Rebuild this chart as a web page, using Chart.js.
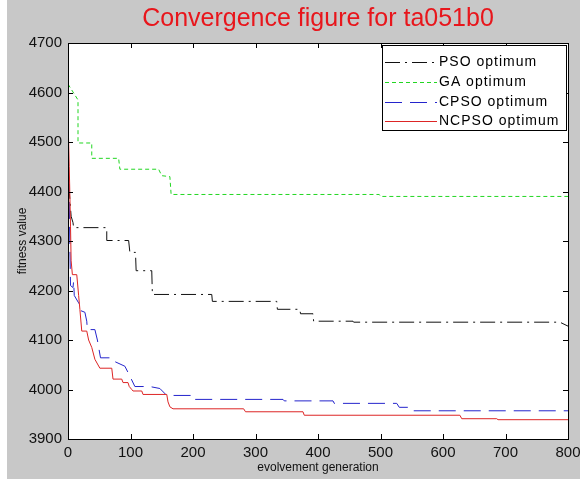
<!DOCTYPE html>
<html>
<head>
<meta charset="utf-8">
<script src="https://cdn.jsdelivr.net/npm/chart.js@4/dist/chart.umd.min.js"></script>
<style>
  html, body { margin: 0; padding: 0; background: #ffffff; }
  #wrap { width: 580px; height: 479px; }
</style>
</head>
<body>
<div id="wrap"><canvas id="c" width="580" height="479"></canvas></div>
<script>
// ---- data ----
const titleText = 'Convergence figure for ta051b0';
const xTitle = 'evolvement generation';
const yTitle = 'fitness value';
const seriesNames = ['PSO optimum', 'GA optimum', 'CPSO optimum', 'NCPSO optimum'];

const psoGen = [0, 2, 5, 8, 9, 62, 62, 97, 99, 108, 109, 134, 135, 230, 231, 334, 335, 371, 372, 392, 393, 456, 457, 787, 800];
const psoVal = [4470, 4400, 4350, 4337, 4327, 4327, 4301, 4301, 4277, 4277, 4240, 4240, 4192, 4192, 4178, 4178, 4162, 4162, 4153, 4153, 4138, 4138, 4136, 4136, 4128];

const gaGen = [0, 16, 16, 38, 38, 81, 83, 145, 150, 163, 165, 498, 500, 800];
const gaVal = [4617, 4585, 4498, 4498, 4467, 4467, 4445, 4445, 4432, 4430, 4394, 4394, 4390, 4390];

const cpsoGen = [0, 2, 3, 4, 8, 9, 10, 17, 19, 27, 30, 31, 43, 47, 52, 70, 72, 91, 99, 107, 131, 147, 158, 200, 201, 344, 346, 424, 426, 526, 530, 547, 550, 800];
const cpsoVal = [4480, 4380, 4290, 4210, 4206, 4219, 4190, 4175, 4160, 4156, 4138, 4121, 4121, 4100, 4064, 4064, 4058, 4047, 4027, 4006, 4006, 4002, 3988, 3988, 3980, 3980, 3977, 3977, 3972, 3972, 3964, 3964, 3957, 3957];

const ncpsoGen = [0, 2, 4, 5, 7, 14, 17, 19, 22, 30, 33, 38, 43, 51, 70, 72, 86, 88, 96, 98, 102, 104, 118, 120, 158, 160, 163, 168, 281, 284, 376, 378, 627, 630, 686, 688, 800];
const ncpsoVal = [4550, 4450, 4330, 4260, 4232, 4232, 4190, 4162, 4118, 4118, 4100, 4085, 4061, 4043, 4043, 4021, 4021, 4014, 4014, 4006, 4000, 3997, 3997, 3990, 3990, 3975, 3965, 3961, 3961, 3955, 3955, 3948, 3948, 3941, 3941, 3939, 3939];

const xMin = 0, xMax = 800, xStep = 100;
const yMin = 3900, yMax = 4700, yStep = 100;

// ---- styles ----
const colors = ['#111111', '#22d622', '#2424cc', '#dd2525'];
const dashes = [[15, 5, 2, 5], [4, 3], [17, 8], []];
const gens = [psoGen, gaGen, cpsoGen, ncpsoGen];
const vals = [psoVal, gaVal, cpsoVal, ncpsoVal];

const datasets = seriesNames.map((name, i) => ({
  label: name,
  data: gens[i].map((g, k) => ({ x: g, y: vals[i][k] })),
  borderColor: colors[i],
  backgroundColor: colors[i],
  borderDash: dashes[i],
  borderWidth: 1,
  pointRadius: 0,
  tension: 0,
  fill: false,
  order: 4 - i
}));

const FONT = "'Liberation Sans', Arial, sans-serif";

const framePlugin = {
  id: 'frame',
  beforeDraw(chart) {
    const ctx = chart.ctx, W = chart.width, H = chart.height, a = chart.chartArea;
    ctx.save();
    ctx.fillStyle = '#ffffff';
    ctx.fillRect(0, 0, W, H);
    ctx.fillStyle = '#c8c8c8';
    ctx.fillRect(7, 0, W - 7, H);
    ctx.fillStyle = '#ffffff';
    ctx.fillRect(a.left, a.top, a.right - a.left, a.bottom - a.top);
    ctx.restore();
  },
  afterDatasetsDraw(chart) {
    const ctx = chart.ctx, a = chart.chartArea;
    const xs = chart.scales.x, ys = chart.scales.y;
    ctx.save();
    ctx.strokeStyle = '#000';
    ctx.lineWidth = 1;
    ctx.setLineDash([]);
    ctx.strokeRect(Math.round(a.left) + 0.5, Math.round(a.top) + 0.5, Math.round(a.right - a.left), Math.round(a.bottom - a.top));
    const tl = 5;
    ctx.beginPath();
    xs.ticks.forEach(t => {
      const px = Math.round(xs.getPixelForValue(t.value)) + 0.5;
      ctx.moveTo(px, a.bottom); ctx.lineTo(px, a.bottom - tl);
      ctx.moveTo(px, a.top); ctx.lineTo(px, a.top + tl);
    });
    ys.ticks.forEach(t => {
      const py = Math.round(ys.getPixelForValue(t.value)) + 0.5;
      ctx.moveTo(a.left, py); ctx.lineTo(a.left + tl, py);
      ctx.moveTo(a.right, py); ctx.lineTo(a.right - tl, py);
    });
    ctx.stroke();

    // legend box (top-right, inside axes)
    const bx = 382.5, by = 45.5, bw = 184, bh = 85;
    ctx.fillStyle = '#ffffff';
    ctx.fillRect(bx, by, bw, bh);
    ctx.strokeStyle = '#000';
    ctx.strokeRect(bx, by, bw, bh);
    const rowY = [61.5, 81.5, 101.5, 121];
    ctx.font = '14px ' + FONT;
    try { ctx.letterSpacing = '1px'; } catch (e) {}
    ctx.textBaseline = 'middle';
    ctx.textAlign = 'left';
    chart.data.datasets.forEach((ds, i) => {
      const y = Math.round(rowY[i]) + 0.5;
      ctx.strokeStyle = ds.borderColor;
      ctx.setLineDash(ds.borderDash || []);
      ctx.beginPath();
      ctx.moveTo(385, y); ctx.lineTo(437, y);
      ctx.stroke();
      ctx.setLineDash([]);
      ctx.fillStyle = '#000';
      ctx.fillText(ds.label, 439, rowY[i] + 0.5);
    });
    ctx.restore();
  }
};

new Chart(document.getElementById('c'), {
  type: 'line',
  data: { datasets },
  options: {
    responsive: false,
    animation: false,
    events: [],
    layout: { padding: { left: 0, right: 12, top: 0, bottom: 0 } },
    plugins: {
      legend: { display: false },
      tooltip: { enabled: false },
      title: {
        display: true,
        fullSize: false,
        text: titleText,
        color: 'rgb(232, 22, 28)',
        font: { family: FONT, size: 25, weight: 'normal' },
        padding: { top: 4, bottom: 9 }
      }
    },
    scales: {
      x: {
        type: 'linear',
        min: xMin, max: xMax,
        grid: { display: false, drawTicks: false },
        border: { display: false },
        ticks: { stepSize: xStep, color: '#111', padding: 5, font: { family: FONT, size: 15 }, maxRotation: 0, callback: v => String(v) },
        title: { display: true, text: xTitle, color: '#111', font: { family: FONT, size: 12 }, padding: { top: 0, bottom: 4 } },
        afterFit(s) { s.height = 40; s.paddingLeft = 0; s.paddingRight = 0; }
      },
      y: {
        type: 'linear',
        min: yMin, max: yMax,
        grid: { display: false, drawTicks: false },
        border: { display: false },
        ticks: { stepSize: yStep, color: '#111', padding: 6, font: { family: FONT, size: 15 }, callback: v => String(v) },
        title: { display: true, text: yTitle, color: '#111', font: { family: FONT, size: 12 }, padding: { top: 15, bottom: 0 } },
        afterFit(s) { s.width = 68; s.paddingTop = 0; s.paddingBottom = 0; }
      }
    }
  },
  plugins: [framePlugin]
});
</script>
</body>
</html>
